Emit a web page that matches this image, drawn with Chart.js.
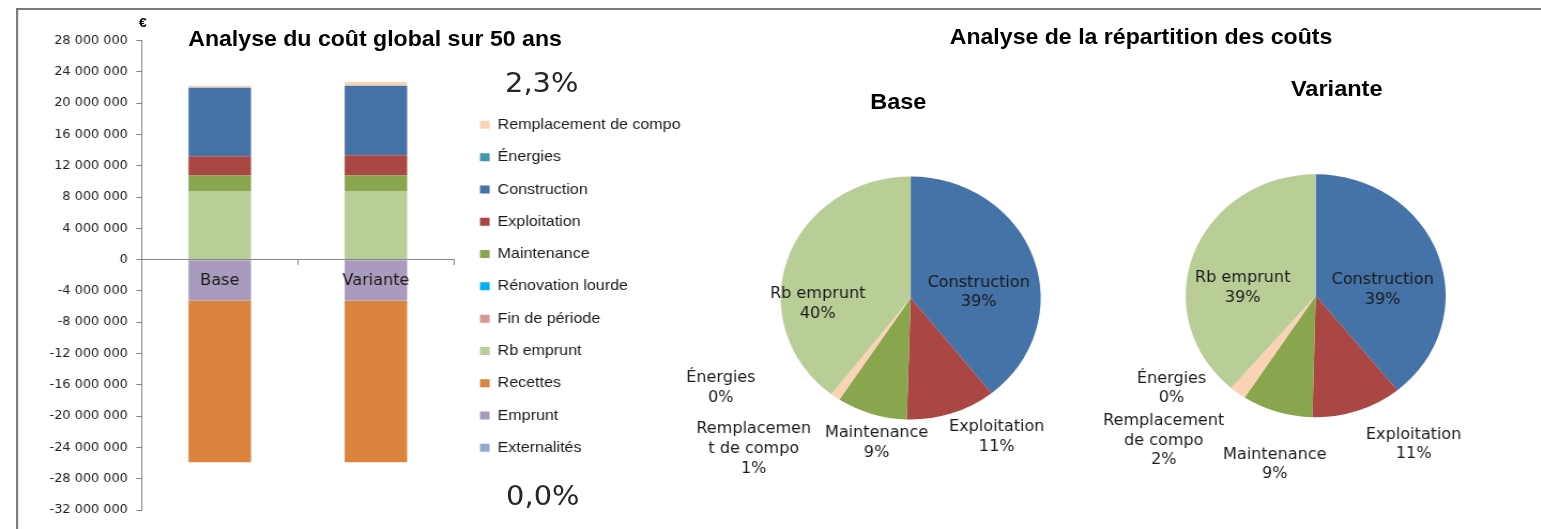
<!DOCTYPE html>
<html><head><meta charset="utf-8">
<script src="https://cdn.jsdelivr.net/npm/chart.js@4"></script>
<style>
html,body{margin:0;padding:0;background:#fff;overflow:hidden;width:1541px;height:529px}
#wrap{position:absolute;left:0;top:0;width:1440px;height:529px;transform:scaleX(1.07);transform-origin:0 0}
#frame{position:absolute;left:15px;top:8px;width:1500px;height:600px;border-left:2px solid #7a7a7a;border-top:2px solid #7a7a7a}
canvas{position:absolute}
.t{position:absolute;white-space:nowrap;transform:translate(-50%,-50%);font-family:"Liberation Sans",Arial,sans-serif;font-weight:bold;color:#000}
.p{position:absolute;white-space:nowrap;transform:translateY(-50%);font-family:"DejaVu Sans",sans-serif;color:#262626}
</style></head>
<body>
<div id="wrap">
  <div id="frame"></div>
  <div class="t" style="left:133.6px;top:22px;font-size:13px">€</div>
  <div class="t" style="left:350.5px;top:39px;font-size:21.6px">Analyse du coût global sur 50 ans</div>
  <div class="t" style="left:1066.4px;top:37px;font-size:21.6px">Analyse de la répartition des coûts</div>
  <div class="t" style="left:839.5px;top:102px;font-size:22px">Base</div>
  <div class="t" style="left:1249.3px;top:89px;font-size:22px">Variante</div>
  <div class="p" id="pctTop" style="left:472px;top:82px;font-size:27px"></div>
  <div class="p" id="pctBottom" style="left:473px;top:495px;font-size:27px"></div>
  <canvas id="bar" width="629" height="509" style="left:17px;top:20px;width:629px;height:509px"></canvas>
  <canvas id="pieBase" width="400" height="469" style="left:630px;top:60px;width:400px;height:469px"></canvas>
  <canvas id="pieVar" width="415" height="469" style="left:1025px;top:60px;width:415px;height:469px"></canvas>
</div>
<script>
// ---- data ----
const categories = ['Base', 'Variante'];
const seriesNames = ['Externalités', 'Emprunt', 'Recettes', 'Rb emprunt', 'Fin de période', 'Rénovation lourde', 'Maintenance', 'Exploitation', 'Construction', 'Énergies', 'Remplacement de compo'];
const externalites = [0, 0];
const emprunt = [-5200000, -5200000];
const recettes = [-20700000, -20700000];
const rbEmprunt = [8800000, 8800000];
const finPeriode = [0, 0];
const renovationLourde = [0, 0];
const maintenance = [1950000, 2000000];
const exploitation = [2480000, 2550000];
const construction = [8750000, 8900000];
const energies = [0, 0];
const remplacement = [270000, 470000];
const yMin = -32000000, yMax = 28000000, yStep = 4000000;
const pctTopText = '2,3%';
const pctBottomText = '0,0%';
const pieNames = ['Construction', 'Exploitation', 'Maintenance', 'Remplacement de compo', 'Énergies', 'Rb emprunt'];
const pieLinesBase = [['Construction'], ['Exploitation'], ['Maintenance'], ['Remplacemen', 't de compo'], ['Énergies'], ['Rb emprunt']];
const pieLinesVariante = [['Construction'], ['Exploitation'], ['Maintenance'], ['Remplacement', 'de compo'], ['Énergies'], ['Rb emprunt']];

// ---- style ----
const colors = {
  'Remplacement de compo': '#FAD3B4',
  'Énergies': '#4198AF',
  'Construction': '#4572A7',
  'Exploitation': '#AA4643',
  'Maintenance': '#89A54E',
  'Rénovation lourde': '#00B0F0',
  'Fin de période': '#D99795',
  'Rb emprunt': '#B9CD96',
  'Recettes': '#DB843D',
  'Emprunt': '#A99BBD',
  'Externalités': '#95A9D0'
};
const labelOffsetsBase = [[0.523, -0.044], [0.662, 1.144], [-0.262, 1.193], [-1.207, 1.243], [-1.46, 0.741], [-0.715, 0.049]];
const labelOffsetsVariante = [[0.515, -0.044], [0.754, 1.226], [-0.315, 1.391], [-1.169, 1.193], [-1.108, 0.765], [-0.561, -0.063]];

document.getElementById('pctTop').textContent = pctTopText;
document.getElementById('pctBottom').textContent = pctBottomText;

const seriesData = {
  'Externalités': externalites, 'Emprunt': emprunt, 'Recettes': recettes, 'Rb emprunt': rbEmprunt,
  'Fin de période': finPeriode, 'Rénovation lourde': renovationLourde, 'Maintenance': maintenance,
  'Exploitation': exploitation, 'Construction': construction, 'Énergies': energies,
  'Remplacement de compo': remplacement
};

function fmt(v) {
  const s = Math.abs(Math.round(v)).toString().replace(/\B(?=(\d{3})+(?!\d))/g, ' ');
  return (v < 0 ? '-' : '') + s;
}

const GRAY = '#868686';
new Chart(document.getElementById('bar'), {
  type: 'bar',
  data: {
    labels: categories,
    datasets: seriesNames.map(n => ({
      label: n, data: seriesData[n], backgroundColor: colors[n], borderWidth: 0,
      barPercentage: 0.4, categoryPercentage: 1
    }))
  },
  options: {
    responsive: false, animation: false,
    layout: { padding: { top: 20.7, bottom: 19, left: 0, right: 0 } },
    plugins: {
      tooltip: { enabled: false },
      legend: {
        position: 'right', align: 'center', reverse: true, maxWidth: 220,
        title: { display: true, text: '', font: { size: 15 }, padding: { top: 0, bottom: 4 } },
        labels: {
          boxWidth: 9, boxHeight: 8, padding: 17.3, color: '#1a1a1a',
          font: { family: '"Liberation Sans", Arial, sans-serif', size: 15 }
        }
      }
    },
    scales: {
      x: {
        stacked: true, position: { y: 0 }, offset: true,
        grid: { display: true, drawOnChartArea: false, drawTicks: true, tickLength: 5, offset: true, color: GRAY, z: 1 },
        border: { color: GRAY, z: 1 },
        ticks: { z: 1, color: '#1a1a1a', font: { family: '"DejaVu Sans", sans-serif', size: 15 }, padding: 7, maxRotation: 0, minRotation: 0, autoSkip: false }
      },
      y: {
        stacked: true, min: yMin, max: yMax,
        ticks: { stepSize: yStep, maxTicksLimit: 30, callback: fmt, color: '#222', font: { family: '"DejaVu Sans", sans-serif', size: 12 }, padding: 8 },
        grid: { drawOnChartArea: false, tickLength: 5, color: GRAY },
        border: { color: GRAY },
        afterFit(s) { s.width = 115.4; }
      },
      y2: {
        position: 'right', display: true,
        grid: { display: false }, ticks: { display: false }, border: { display: false },
        afterFit(s) { s.width = 7; }
      }
    }
  }
});

const pieLabelPlugin = {
  id: 'pieLabels',
  afterDatasetsDraw(chart, args, opts) {
    const meta = chart.getDatasetMeta(0);
    const vals = chart.data.datasets[0].data;
    const total = vals.reduce((a, b) => a + b, 0);
    const ctx = chart.ctx;
    ctx.save();
    ctx.font = opts.font;
    ctx.fillStyle = opts.color;
    ctx.textAlign = 'center';
    ctx.textBaseline = 'middle';
    meta.data.forEach((arc, i) => {
      const p = arc.getProps(['x', 'y', 'outerRadius'], true);
      const lines = opts.lines[i].concat([Math.round(vals[i] / total * 100) + '%']);
      const cx = p.x + opts.offsets[i][0] * p.outerRadius;
      const cy = p.y + opts.offsets[i][1] * p.outerRadius;
      lines.forEach((t, k) => ctx.fillText(t, cx, cy + (k - (lines.length - 1) / 2) * opts.lineHeight));
    });
    ctx.restore();
  }
};

function makePie(id, idx, lines, offsets, padding) {
  const data = pieNames.map(n => seriesData[n][idx]);
  new Chart(document.getElementById(id), {
    type: 'pie',
    data: { labels: pieNames, datasets: [{ data: data, backgroundColor: pieNames.map(n => colors[n]), borderWidth: 0 }] },
    options: {
      responsive: false, animation: false,
      layout: { padding: padding },
      plugins: {
        legend: { display: false }, tooltip: { enabled: false },
        pieLabels: { lines: lines, offsets: offsets, font: '15px "DejaVu Sans", sans-serif', color: '#1a1a1a', lineHeight: 19.8 }
      }
    },
    plugins: [pieLabelPlugin]
  });
}
makePie('pieBase', 0, pieLinesBase, labelOffsetsBase, { left: 99.6, right: 57.4, top: 116.5, bottom: 109.5 });
makePie('pieVar', 1, pieLinesVariante, labelOffsetsVariante, { left: 83.1, right: 88.9, top: 114.2, bottom: 111.8 });
</script>
</body></html>
